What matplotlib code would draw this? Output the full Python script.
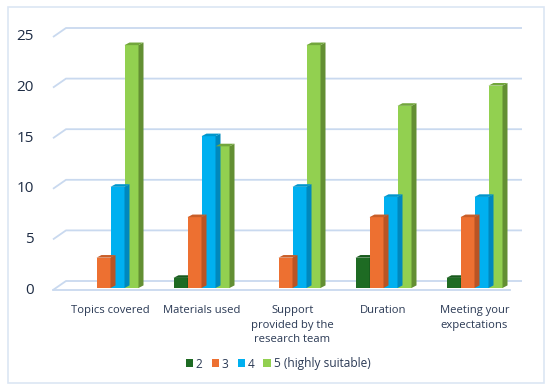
import matplotlib
matplotlib.use("Agg")
import matplotlib.pyplot as plt
from matplotlib.patches import Polygon, Rectangle

categories = ["Topics covered", "Materials used", "Support\nprovided by the\nresearch team",
              "Duration", "Meeting your\nexpectations"]
series_names = ["2", "3", "4", "5 (highly suitable)"]
s2 = [0, 1, 0, 3, 1]
s3 = [3, 7, 3, 7, 7]
s4 = [10, 15, 10, 9, 9]
s5 = [24, 14, 24, 18, 20]
yticks = [0, 5, 10, 15, 20, 25]

front_colors = ["#1e6b23", "#ed7031", "#00b0f0", "#92d050"]
side_colors = ["#14501a", "#b95424", "#0088bd", "#638f33"]
top_colors = ["#175a1c", "#c95e28", "#0096cc", "#72a63c"]

W, H = 550, 390
fig = plt.figure(figsize=(W / 100, H / 100), dpi=100)
fig.patch.set_facecolor("white")

# pixel layout
px_left, px_right = 53, 522
py_top, py_base = 28, 288
ppu = 10.12  # pixels per unit
cx0, cstep = 110.5, 91.0
ymin = -0.3
py_bottom = py_base - ymin * ppu
xlim = ((px_left - cx0) / cstep, (px_right - cx0) / cstep)
ymax = (py_base - py_top) / ppu

ax = fig.add_axes([px_left / W, (H - py_bottom) / H, (px_right - px_left) / W, (py_bottom - py_top) / H])
ax.set_xlim(*xlim)
ax.set_ylim(ymin, ymax)
for s in ax.spines.values():
    s.set_visible(False)
ax.set_facecolor("none")

dxu = 5 / cstep     # side depth in x units
dyu = 2.6 / ppu     # side depth in y units
back_dy = 7 / ppu
front_dy = -2 / ppu
back_x0 = (66 - cx0) / cstep
grid_c = "#c9d9ef"

# 3D-ish gridlines
for v in yticks:
    ax.plot([xlim[0], back_x0, xlim[1]], [v + front_dy, v + back_dy, v + back_dy],
            color=grid_c, lw=1.3, zorder=1, clip_on=False, solid_capstyle="butt")
# floor front edge
ax.plot([xlim[0], (510 - cx0) / cstep], [front_dy, front_dy], color=grid_c, lw=1.3,
        zorder=1, clip_on=False)

bw = 14 / cstep
data = [s2, s3, s4, s5]
xs = list(range(len(categories)))
for j, vals in enumerate(data):
    off = (j - 1.5) * bw
    pos = [x + off for x in xs]
    ax.bar(pos, vals, width=bw, color=front_colors[j], zorder=3, linewidth=0,
           label=series_names[j])
    for p, v in zip(pos, vals):
        if v <= 0:
            continue
        r = p + bw / 2
        l = p - bw / 2
        side = Polygon([(r, 0), (r + dxu, dyu), (r + dxu, v + dyu), (r, v)],
                       closed=True, facecolor=side_colors[j], edgecolor="none", zorder=3 + j * 0.01)
        top = Polygon([(l, v), (l + dxu, v + dyu), (r + dxu, v + dyu), (r, v)],
                      closed=True, facecolor=top_colors[j], edgecolor="none", zorder=3 + j * 0.01)
        ax.add_patch(side)
        ax.add_patch(top)

txt_c = "#1f2d45"
ax.set_yticks(yticks)
ax.set_yticklabels([str(t) for t in yticks], fontsize=11, color=txt_c, family="Open Sans")
ax.tick_params(axis="y", length=0, pad=14)
ax.set_xticks(xs)
ax.set_xticklabels(categories, fontsize=8.1, color="#2b3a55", family="Open Sans",
                   linespacing=1.45, va="top")
ax.tick_params(axis="x", length=0, pad=10)

handles = [Rectangle((0, 0), 1, 1, facecolor=c, edgecolor="none") for c in front_colors]
leg = fig.legend(handles, series_names, loc="center", bbox_to_anchor=(278 / W, (H - 364) / H),
                 ncol=4, frameon=False, handlelength=0.6, handleheight=0.6,
                 handletextpad=0.25, columnspacing=0.75,
                 prop={"family": "Open Sans", "size": 8.6})
for t in leg.get_texts():
    t.set_color("#2b3a55")

# outer border
fig.patches.append(Rectangle((8 / W, (H - 383) / H), (544 - 8) / W, (383 - 7) / H,
                             transform=fig.transFigure, fill=False, edgecolor="#dce6f4", lw=1.2))

fig.savefig("out.png", dpi=100)
